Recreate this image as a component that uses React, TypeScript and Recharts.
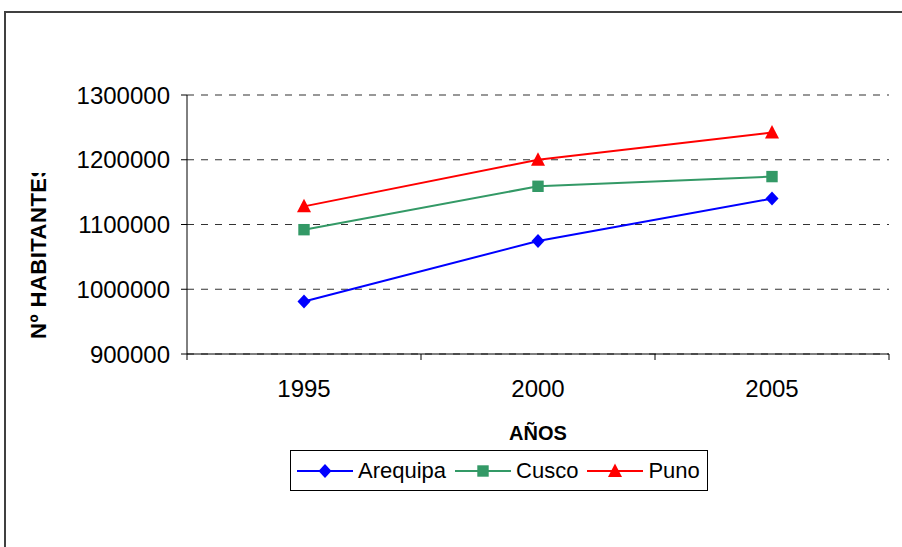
import { LineChart, Line, XAxis, YAxis, CartesianGrid, Legend } from 'recharts';

const years = ['1995', '2000', '2005'];
const arequipa = [981000, 1074500, 1140000];
const cusco = [1092000, 1159000, 1174000];
const puno = [1128000, 1200000, 1242000];
const yTicks = [900000, 1000000, 1100000, 1200000, 1300000];

const FONT = '"Liberation Sans", Arial, sans-serif';

const BLUE = '#0000ff';
const GREEN = '#339966';
const RED = '#ff0000';

// categories sit in the middle of each band, ticks on the band edges
const data = years.map((year, i) => ({
  x: i + 0.5,
  year,
  Arequipa: arequipa[i],
  Cusco: cusco[i],
  Puno: puno[i],
}));

const xTicks = [0, 0.5, 1, 1.5, 2, 2.5, 3];

const Diamond = ({ cx, cy, fill }: any) => (
  <path d={`M${cx},${cy - 7} L${cx + 6.5},${cy} L${cx},${cy + 7} L${cx - 6.5},${cy} Z`} fill={fill} />
);
const Square = ({ cx, cy, fill }: any) => (
  <rect x={cx - 5.7} y={cy - 5.7} width={11.4} height={11.4} fill={fill} />
);
const Triangle = ({ cx, cy, fill }: any) => (
  <path d={`M${cx},${cy - 7.5} L${cx + 7},${cy + 6} L${cx - 7},${cy + 6} Z`} fill={fill} />
);

const XTick = ({ x, y, payload }: any) => {
  const v = payload.value;
  const axisY = y - 25;
  if (Number.isInteger(v)) {
    return <line x1={x} x2={x} y1={axisY} y2={axisY + 6} stroke="#000" />;
  }
  return (
    <text x={x} y={axisY + 34} textAnchor="middle" fontSize={24} fontFamily={FONT} fill="#000" dominantBaseline="central">
      {years[Math.floor(v)]}
    </text>
  );
};

const YLabel = () => (
  <g>
    <defs>
      <clipPath id="ylabClip">
        <rect x={0} y={173} width={80} height={300} />
      </clipPath>
    </defs>
    <g clipPath="url(#ylabClip)">
      <text
        x={46}
        y={339}
        transform="rotate(-90, 46, 339)"
        fontSize={22}
        letterSpacing={0.5}
        fontWeight="bold"
        fontFamily={FONT}
        fill="#000"
      >
        Nº HABITANTES
      </text>
    </g>
  </g>
);

const legendItems = [
  { name: 'Arequipa', color: BLUE, Shape: Diamond },
  { name: 'Cusco', color: GREEN, Shape: Square },
  { name: 'Puno', color: RED, Shape: Triangle },
];

const LegendBox = () => (
  <div
    style={{
      display: 'flex',
      alignItems: 'center',
      height: 41,
      border: '1px solid #000',
      boxSizing: 'border-box',
      paddingLeft: 6,
      fontFamily: FONT,
      fontSize: 22,
      background: '#fff',
    }}
  >
    {legendItems.map(({ name, color, Shape }) => (
      <div key={name} style={{ display: 'flex', alignItems: 'center', marginRight: 9 }}>
        <svg width={56} height={20}>
          <line x1={0} x2={56} y1={10} y2={10} stroke={color} strokeWidth={2} />
          <Shape cx={28} cy={10} fill={color} />
        </svg>
        <span style={{ marginLeft: 5 }}>{name}</span>
      </div>
    ))}
  </div>
);

export default function App() {
  return (
    <div style={{ position: 'absolute', left: 0, top: 0, width: 902, height: 547, background: '#fff', overflow: 'hidden' }}>
      <div
        style={{
          position: 'absolute',
          left: 4,
          top: 11,
          width: 920,
          height: 560,
          border: '2px solid #404040',
          boxSizing: 'border-box',
        }}
      />
      <LineChart
        width={902}
        height={547}
        data={data}
        margin={{ top: 95, right: 13, left: 77, bottom: 102 }}
        style={{ position: 'absolute', left: 0, top: 0 }}
      >
        <CartesianGrid vertical={false} stroke="#333" strokeWidth={1.2} strokeDasharray="7 7" />
        <XAxis
          dataKey="x"
          type="number"
          domain={[0, 3]}
          ticks={xTicks}
          interval={0}
          tickLine={false}
          tick={<XTick />}
          tickSize={6}
          tickMargin={19}
          height={50}
          axisLine={{ stroke: '#000' }}
          label={{ value: 'AÑOS', position: 'insideBottom', offset: -36, fontSize: 20, fontWeight: 'bold', fontFamily: FONT, fill: '#000' }}
        />
        <YAxis
          type="number"
          domain={[900000, 1300000]}
          ticks={yTicks}
          interval={0}
          width={110}
          tickSize={6}
          tickMargin={11}
          axisLine={{ stroke: '#000' }}
          tickLine={{ stroke: '#000' }}
          tick={{ fontSize: 24, fontFamily: FONT, fill: '#000' }}
          label={{ content: () => <YLabel /> }}
        />
        <Legend
          content={() => <LegendBox />}
          wrapperStyle={{ position: 'absolute', left: 290, top: 450, width: 418, height: 41 }}
        />
        <Line dataKey="Arequipa" stroke={BLUE} strokeWidth={2} dot={<Diamond fill={BLUE} />} activeDot={false} isAnimationActive={false} />
        <Line dataKey="Cusco" stroke={GREEN} strokeWidth={2} dot={<Square fill={GREEN} />} activeDot={false} isAnimationActive={false} />
        <Line dataKey="Puno" stroke={RED} strokeWidth={2} dot={<Triangle fill={RED} />} activeDot={false} isAnimationActive={false} />
      </LineChart>
    </div>
  );
}
